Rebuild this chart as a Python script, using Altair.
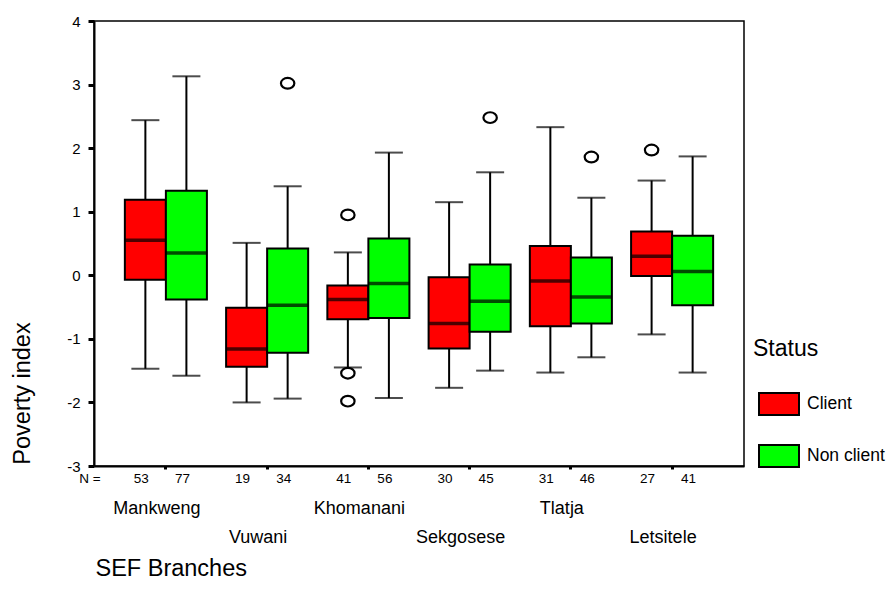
import altair as alt
import pandas as pd

branches = ["Mankweng", "Vuwani", "Khomanani", "Sekgosese", "Tlatja", "Letsitele"]
statuses = ["Client", "Non client"]
label_row = [0, 1, 0, 1, 0, 1]

box_branch = ["Mankweng", "Mankweng", "Vuwani", "Vuwani", "Khomanani", "Khomanani",
              "Sekgosese", "Sekgosese", "Tlatja", "Tlatja", "Letsitele", "Letsitele"]
box_status = ["Client", "Non client"] * 6
counts = [53, 77, 19, 34, 41, 56, 30, 45, 31, 46, 27, 41]
whisker_low = [-1.47, -1.58, -2.00, -1.94, -1.45, -1.93, -1.77, -1.50, -1.53, -1.29, -0.93, -1.53]
q1 = [-0.07, -0.38, -1.44, -1.22, -0.69, -0.67, -1.15, -0.89, -0.80, -0.76, -0.01, -0.47]
median = [0.55, 0.35, -1.16, -0.47, -0.38, -0.13, -0.76, -0.41, -0.09, -0.34, 0.30, 0.06]
q3 = [1.19, 1.33, -0.51, 0.42, -0.16, 0.58, -0.03, 0.17, 0.46, 0.28, 0.69, 0.62]
whisker_high = [2.44, 3.13, 0.51, 1.40, 0.36, 1.93, 1.15, 1.62, 2.33, 1.22, 1.49, 1.87]

out_branch = ["Vuwani", "Khomanani", "Khomanani", "Khomanani", "Sekgosese", "Tlatja", "Letsitele"]
out_status = ["Non client", "Client", "Client", "Client", "Non client", "Non client", "Client"]
out_value = [3.02, 0.95, -1.54, -1.98, 2.48, 1.86, 1.97]

y_ticks = [-3, -2, -1, 0, 1, 2, 3, 4]

FONT = "Liberation Sans"

boxes = pd.DataFrame({
    "branch": box_branch, "status": box_status, "n": [str(c) for c in counts],
    "lo": whisker_low, "q1": q1, "med": median, "q3": q3, "hi": whisker_high,
})
outliers = pd.DataFrame({"branch": out_branch, "status": out_status, "value": out_value})
labels = pd.DataFrame({"branch": branches, "row": label_row})
nlab = pd.DataFrame({"t": ["N ="]})

x_enc = alt.X("branch:N", sort=branches,
              scale=alt.Scale(domain=branches, paddingInner=0, paddingOuter=0.21),
              axis=alt.Axis(labels=False, title="SEF Branches", tickSize=3, tickWidth=3,
                            titleX=1, titleY=102, titleAlign="left", titleAnchor="start",
                            titleBaseline="middle", titleFontSize=23.5, titleFontWeight="normal",
                            grid=False))
xo_enc = alt.XOffset("status:N", scale=alt.Scale(domain=statuses, paddingInner=0, paddingOuter=0.234))
y_scale = alt.Scale(domain=[-3, 4], nice=False, zero=False)
y_axis = alt.Axis(values=y_ticks, labelExpr="datum.value + ''", tickSize=6, tickWidth=3,
                  labelPadding=8, labelFontSize=15,
                  title="Poverty index", titleFontSize=23.5, titleFontWeight="normal",
                  titleX=-72, titleY=372, titleAlign="center", titleBaseline="middle",
                  titleAngle=-90, grid=False)

base = alt.Chart(boxes).encode(x=x_enc, xOffset=xo_enc)

whisk = base.mark_rule(color="black", strokeWidth=2).encode(
    y=alt.Y("lo:Q", scale=y_scale, axis=y_axis), y2="hi:Q")
caps_lo = base.mark_tick(color="black", size=28, thickness=2, orient="horizontal").encode(y="lo:Q")
caps_hi = base.mark_tick(color="black", size=28, thickness=2, orient="horizontal").encode(y="hi:Q")
bars = base.mark_bar(stroke="black", strokeWidth=2).encode(
    y="q1:Q", y2="q3:Q",
    color=alt.Color("status:N", scale=alt.Scale(domain=statuses, range=["#ff0000", "#00ff00"]),
                    legend=alt.Legend(title="Status", orient="none", legendX=659, legendY=317,
                                      padding=0, titleFontSize=23, titleFontWeight="normal",
                                      titlePadding=22, labelFontSize=17.5, labelOffset=7,
                                      symbolOffset=5,
                                      symbolType="M-1,-0.55H1V0.55H-1Z", symbolSize=1600,
                                      symbolStrokeColor="black", symbolStrokeWidth=2,
                                      symbolOpacity=1, rowPadding=16)))
meds = base.mark_tick(color="black", size=41, thickness=3.5, orient="horizontal").encode(y="med:Q")
ntext = base.mark_text(fontSize=13.5, font=FONT, color="black", dx=-4, baseline="middle").encode(
    y=alt.value(458), text="n:N")

outs = alt.Chart(outliers).mark_point(
    shape="M-1.25,0A1.25,1,0,1,0,1.25,0A1.25,1,0,1,0,-1.25,0Z",
    size=115, filled=False, stroke="black", strokeWidth=2.2, opacity=1
).encode(x=x_enc, xOffset=xo_enc, y="value:Q")

lab0 = alt.Chart(labels).transform_filter("datum.row == 0").mark_text(
    fontSize=18, font=FONT, color="black", dx=-9, baseline="middle").encode(
    x=x_enc, y=alt.value(488), text="branch:N")
lab1 = alt.Chart(labels).transform_filter("datum.row == 1").mark_text(
    fontSize=18, font=FONT, color="black", dx=-9, baseline="middle").encode(
    x=x_enc, y=alt.value(517), text="branch:N")
nmark = alt.Chart(nlab).mark_text(fontSize=13.5, font=FONT, color="black", baseline="middle").encode(
    x=alt.value(-4), y=alt.value(458), text="t:N")

chart = alt.layer(whisk, bars, caps_lo, caps_hi, meds, outs, ntext, lab0, lab1, nmark).properties(
    width=650, height=445, background="white",
    padding={"left": 94, "top": 21, "right": 143, "bottom": 140},
    autosize=alt.AutoSizeParams(type="none"),
).configure_view(stroke="black", strokeWidth=1.5).configure_axis(
    domainColor="black", domainWidth=2, tickColor="black", labelColor="black",
    titleColor="black", labelFont=FONT, titleFont=FONT
).configure_legend(labelFont=FONT, titleFont=FONT, labelColor="black", titleColor="black")

chart.save("out.html", embed_options={"renderer": "svg", "actions": False})
